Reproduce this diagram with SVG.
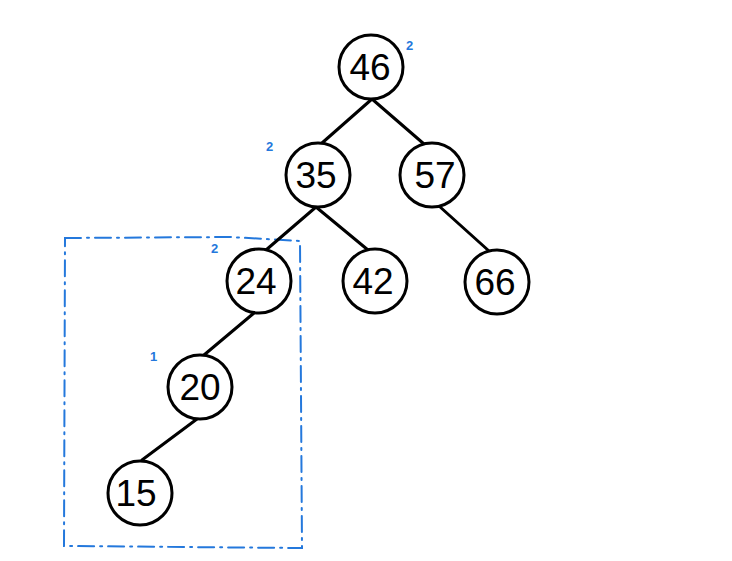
<svg xmlns="http://www.w3.org/2000/svg" width="732" height="561" viewBox="0 0 732 561">
<style>
.node circle{fill:#fff;stroke:#000;stroke-width:3}
.node text{font-family:"Liberation Sans",Arial,sans-serif;font-size:37px;fill:#000;text-anchor:middle}
.edges line{stroke:#000;stroke-width:3;stroke-linecap:round}
.bal{font-family:"Liberation Sans",Arial,sans-serif;font-size:13px;font-weight:bold;fill:#2478dc}
.box{fill:none;stroke:#2478dc;stroke-width:2;stroke-dasharray:16 6 2 6;stroke-linecap:round}
</style>
<rect width="732" height="561" fill="#fff"/>
<path class="box" d="M65 238 L230 237 L300 241 L302 548 L64 546 Z"/>
<g class="edges">
<line x1="372" y1="99" x2="322" y2="143"/>
<line x1="372" y1="99" x2="424" y2="144"/>
<line x1="316" y1="207" x2="266" y2="250"/>
<line x1="316" y1="207" x2="368" y2="250"/>
<line x1="439" y1="206" x2="489" y2="251"/>
<line x1="254" y1="313" x2="204" y2="355"/>
<line x1="197" y1="419" x2="142" y2="460"/>
</g>
<g id="n46" class="node"><circle cx="371" cy="67" r="32"/><text x="370" y="80">46</text></g>
<g id="n35" class="node"><circle cx="318" cy="175" r="32"/><text x="316" y="188">35</text></g>
<g id="n57" class="node"><circle cx="432" cy="175" r="32"/><text x="435" y="188">57</text></g>
<g id="n24" class="node"><circle cx="259" cy="281" r="32"/><text x="256" y="294">24</text></g>
<g id="n42" class="node"><circle cx="375" cy="281" r="32"/><text x="373" y="294">42</text></g>
<g id="n66" class="node"><circle cx="497" cy="282" r="32"/><text x="495" y="295">66</text></g>
<g id="n20" class="node"><circle cx="200" cy="387" r="32"/><text x="200" y="400">20</text></g>
<g id="n15" class="node"><circle cx="140" cy="493" r="32"/><text x="136" y="506">15</text></g>
<text class="bal" x="406" y="50">2</text>
<text class="bal" x="266" y="151">2</text>
<text class="bal" x="211" y="253">2</text>
<text class="bal" x="150" y="361">1</text>
</svg>
